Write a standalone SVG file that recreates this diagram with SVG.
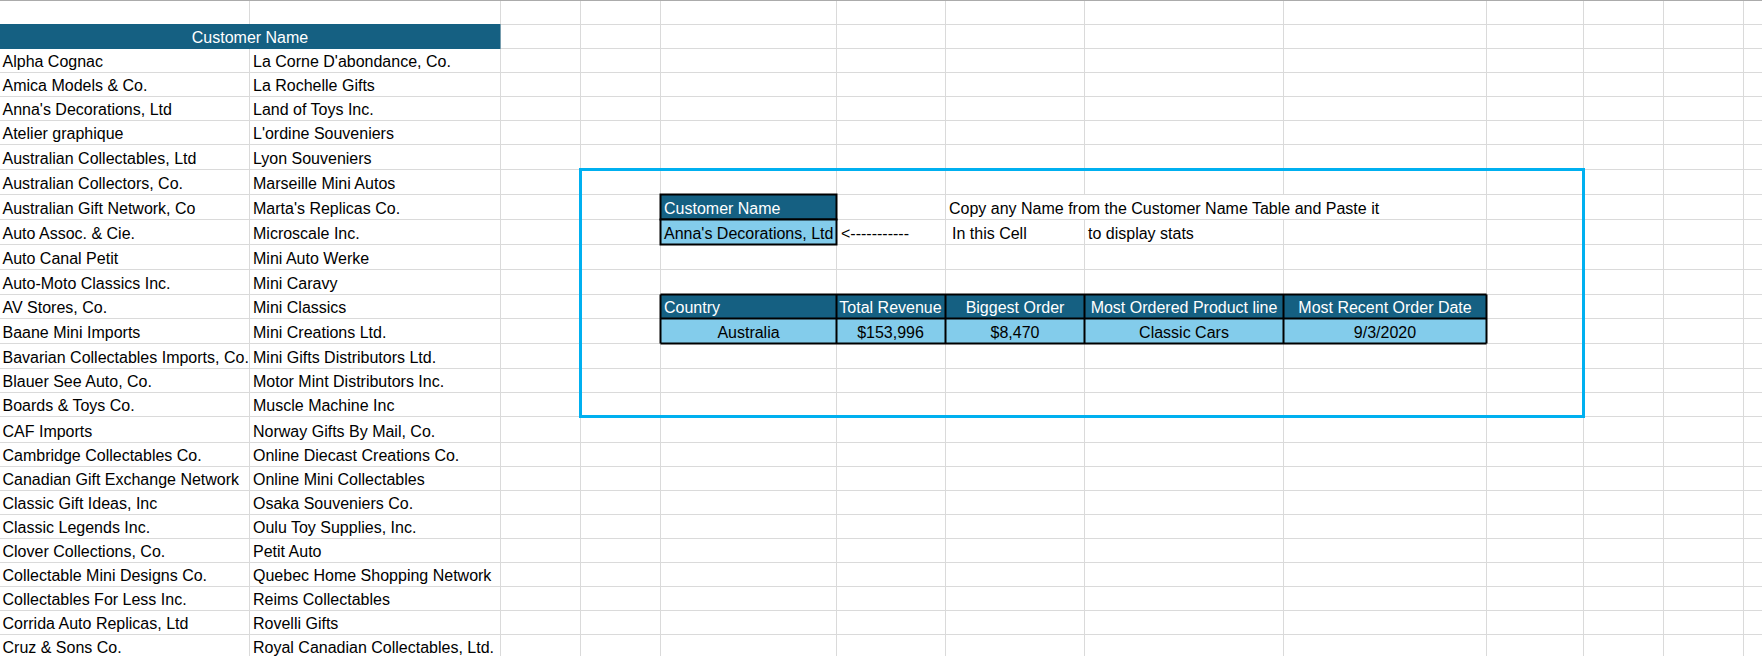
<svg xmlns="http://www.w3.org/2000/svg" width="1762" height="656" viewBox="0 0 1762 656">
<style>
text{font-family:"Liberation Sans",Arial,sans-serif;font-size:16px;fill:#000}
.w{fill:#fff}
.c{text-anchor:middle}
.grid{stroke:#DADADA;stroke-width:1;fill:none}
.dark{fill:#156082}
.light{fill:#83CCEB}
.cell{stroke:#000;stroke-width:2}
</style>
<rect x="0" y="0" width="1762" height="656" fill="#fff"/>
<g id="gridlines">
<path class="grid" d="M0 24.5H1762M0 48.5H1762M0 72.5H1762M0 96.5H1762M0 120.5H1762M0 144.5H1762M0 169.5H1762M0 194.5H1762M0 219.5H1762M0 244.5H1762M0 269.5H1762M0 294.5H1762M0 318.5H1762M0 343.5H1762M0 368.5H1762M0 392.5H1762M0 416.5H1762M0 442.5H1762M0 466.5H1762M0 490.5H1762M0 514.5H1762M0 538.5H1762M0 562.5H1762M0 586.5H1762M0 610.5H1762M0 634.5H1762"/>
<path class="grid" d="M249.5 0V656M500.5 0V656M580.5 0V656M660.5 0V656M836.5 0V656M945.5 0V656M1084.5 0V656M1283.5 0V656M1486.5 0V656M1583.5 0V656M1663.5 0V656M1743.5 0V656"/>
<line x1="0" y1="0.5" x2="1762" y2="0.5" stroke="#ABABAB" stroke-width="1"/>
<rect x="946" y="195" width="540" height="24" fill="#fff"/>
</g>
<g id="customer-list">
<rect class="dark" x="0" y="24" width="500.5" height="25"/>
<text class="w c" x="250" y="43">Customer Name</text>
<g id="list-col-a">
<text x="2.5" y="66.5">Alpha Cognac</text>
<text x="2.5" y="90.5">Amica Models &amp; Co.</text>
<text x="2.5" y="114.5">Anna's Decorations, Ltd</text>
<text x="2.5" y="138.5">Atelier graphique</text>
<text x="2.5" y="163.5">Australian Collectables, Ltd</text>
<text x="2.5" y="188.5">Australian Collectors, Co.</text>
<text x="2.5" y="213.5">Australian Gift Network, Co</text>
<text x="2.5" y="238.5">Auto Assoc. &amp; Cie.</text>
<text x="2.5" y="263.5">Auto Canal Petit</text>
<text x="2.5" y="288.5">Auto-Moto Classics Inc.</text>
<text x="2.5" y="312.5">AV Stores, Co.</text>
<text x="2.5" y="337.5">Baane Mini Imports</text>
<text x="2.5" y="362.5">Bavarian Collectables Imports, Co.</text>
<text x="2.5" y="386.5">Blauer See Auto, Co.</text>
<text x="2.5" y="410.5">Boards &amp; Toys Co.</text>
<text x="2.5" y="436.5">CAF Imports</text>
<text x="2.5" y="460.5">Cambridge Collectables Co.</text>
<text x="2.5" y="484.5">Canadian Gift Exchange Network</text>
<text x="2.5" y="508.5">Classic Gift Ideas, Inc</text>
<text x="2.5" y="532.5">Classic Legends Inc.</text>
<text x="2.5" y="556.5">Clover Collections, Co.</text>
<text x="2.5" y="580.5">Collectable Mini Designs Co.</text>
<text x="2.5" y="604.5">Collectables For Less Inc.</text>
<text x="2.5" y="628.5">Corrida Auto Replicas, Ltd</text>
<text x="2.5" y="652.5">Cruz &amp; Sons Co.</text>
</g>
<g id="list-col-b">
<text x="253" y="66.5">La Corne D'abondance, Co.</text>
<text x="253" y="90.5">La Rochelle Gifts</text>
<text x="253" y="114.5">Land of Toys Inc.</text>
<text x="253" y="138.5">L'ordine Souveniers</text>
<text x="253" y="163.5">Lyon Souveniers</text>
<text x="253" y="188.5">Marseille Mini Autos</text>
<text x="253" y="213.5">Marta's Replicas Co.</text>
<text x="253" y="238.5">Microscale Inc.</text>
<text x="253" y="263.5">Mini Auto Werke</text>
<text x="253" y="288.5">Mini Caravy</text>
<text x="253" y="312.5">Mini Classics</text>
<text x="253" y="337.5">Mini Creations Ltd.</text>
<text x="253" y="362.5">Mini Gifts Distributors Ltd.</text>
<text x="253" y="386.5">Motor Mint Distributors Inc.</text>
<text x="253" y="410.5">Muscle Machine Inc</text>
<text x="253" y="436.5">Norway Gifts By Mail, Co.</text>
<text x="253" y="460.5">Online Diecast Creations Co.</text>
<text x="253" y="484.5">Online Mini Collectables</text>
<text x="253" y="508.5">Osaka Souveniers Co.</text>
<text x="253" y="532.5">Oulu Toy Supplies, Inc.</text>
<text x="253" y="556.5">Petit Auto</text>
<text x="253" y="580.5">Quebec Home Shopping Network</text>
<text x="253" y="604.5">Reims Collectables</text>
<text x="253" y="628.5">Rovelli Gifts</text>
<text x="253" y="652.5">Royal Canadian Collectables, Ltd.</text>
</g>
</g>
<g id="frame">
<rect x="580.5" y="169.5" width="1003" height="247" fill="none" stroke="#00B0F0" stroke-width="3"/>
</g>
<g id="input-table">
<rect class="dark cell" x="660.5" y="194.5" width="176" height="25"/>
<rect class="light cell" x="660.5" y="219.5" width="176" height="25"/>
<text class="w" x="664" y="213.5">Customer Name</text>
<text x="664" y="238.5">Anna's Decorations, Ltd</text>
</g>
<g id="instructions">
<text x="841" y="238.5">&lt;-----------</text>
<text x="949" y="213.5">Copy any Name from the Customer Name Table and Paste it</text>
<text x="952" y="238.5">In this Cell</text>
<text x="1088" y="238.5">to display stats</text>
</g>
<g id="stats-table">
<rect class="dark" x="660.5" y="294.5" width="826" height="24"/>
<rect class="light" x="660.5" y="318.5" width="826" height="25"/>
<path class="cell" fill="none" d="M660.5 294.5H1486.5M660.5 318.5H1486.5M660.5 343.5H1486.5M660.5 294.5V343.5M836.5 294.5V343.5M945.5 294.5V343.5M1084.5 294.5V343.5M1283.5 294.5V343.5M1486.5 294.5V343.5"/>
<text class="w" x="664" y="312.5">Country</text>
<text class="w c" x="890.5" y="312.5">Total Revenue</text>
<text class="w c" x="1015" y="312.5">Biggest Order</text>
<text class="w c" x="1184" y="312.5">Most Ordered Product line</text>
<text class="w c" x="1385" y="312.5">Most Recent Order Date</text>
<text class="c" x="748.5" y="337.5">Australia</text>
<text class="c" x="890.5" y="337.5">$153,996</text>
<text class="c" x="1015" y="337.5">$8,470</text>
<text class="c" x="1184" y="337.5">Classic Cars</text>
<text class="c" x="1385" y="337.5">9/3/2020</text>
</g>
<g id="connectors"/>
</svg>
